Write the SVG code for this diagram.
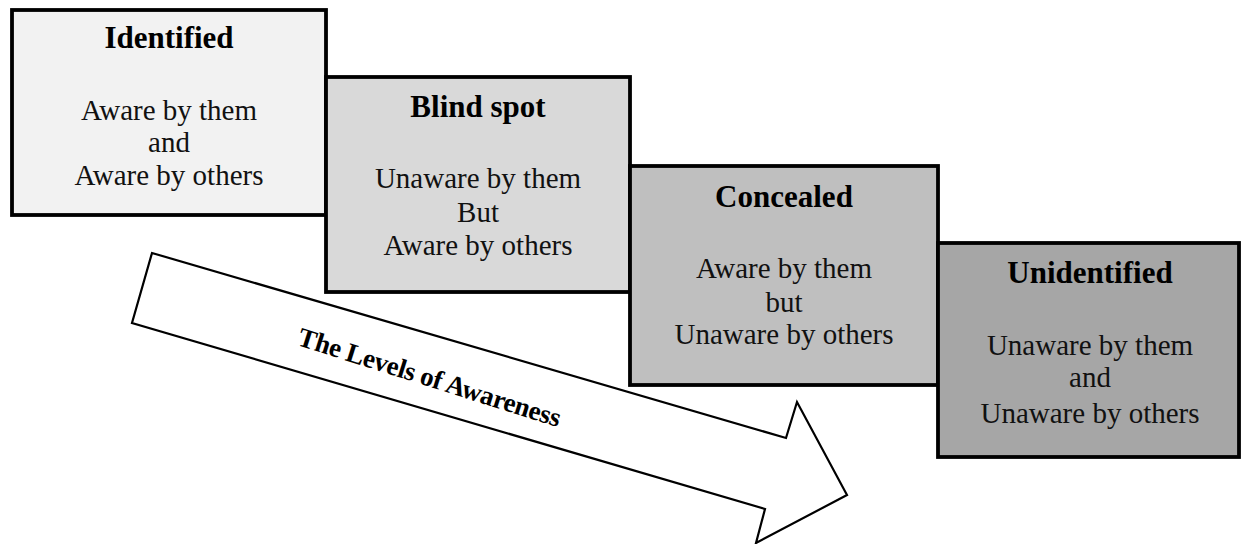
<svg xmlns="http://www.w3.org/2000/svg" width="1241" height="544" viewBox="0 0 1241 544">
<style>
.box{stroke:#000;stroke-width:3.8}
.title{font-family:"Liberation Serif","Times New Roman",serif;font-weight:bold;font-size:31px;text-anchor:middle;fill:#000}
.body{font-family:"Liberation Serif","Times New Roman",serif;font-size:29px;text-anchor:middle;fill:#111}
.arrow{fill:#fff;stroke:#000;stroke-width:2.2;stroke-linejoin:miter}
.alabel{font-family:"Liberation Serif","Times New Roman",serif;font-weight:bold;font-size:27px;text-anchor:middle;fill:#000}
</style>
<rect width="1241" height="544" fill="#fff"/>
<g id="connectors">
<polygon class="arrow" points="152,253 786,438 797,402 847,495 756,543 765,509 132,323"/>
<text class="alabel" transform="translate(427,386) rotate(17.5)" textLength="274" lengthAdjust="spacing">The Levels of Awareness</text>
</g>
<g id="identified">
<rect class="box" x="12" y="10" width="314" height="205" fill="#f2f2f2"/>
<text class="title" x="169" y="48">Identified</text>
<text class="body" x="169" y="120">Aware by them</text>
<text class="body" x="169" y="152">and</text>
<text class="body" x="169" y="185">Aware by others</text>
</g>
<g id="blind-spot">
<rect class="box" x="326" y="77" width="304" height="215" fill="#d9d9d9"/>
<text class="title" x="478" y="117">Blind spot</text>
<text class="body" x="478" y="188">Unaware by them</text>
<text class="body" x="478" y="222">But</text>
<text class="body" x="478" y="255">Aware by others</text>
</g>
<g id="concealed">
<rect class="box" x="630" y="166" width="308" height="219" fill="#bfbfbf"/>
<text class="title" x="784" y="207">Concealed</text>
<text class="body" x="784" y="278">Aware by them</text>
<text class="body" x="784" y="312">but</text>
<text class="body" x="784" y="344">Unaware by others</text>
</g>
<g id="unidentified">
<rect class="box" x="938" y="243" width="301" height="214" fill="#a6a6a6"/>
<text class="title" x="1090" y="283">Unidentified</text>
<text class="body" x="1090" y="355">Unaware by them</text>
<text class="body" x="1090" y="387">and</text>
<text class="body" x="1090" y="423">Unaware by others</text>
</g>
</svg>
